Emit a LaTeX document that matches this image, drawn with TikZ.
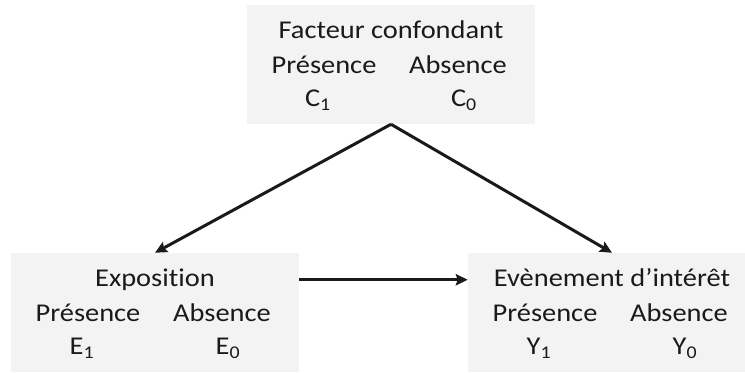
\documentclass[tikz,border=0pt]{standalone}
\usepackage{fontspec}
\setmainfont{Carlito}[FakeStretch=1.11,Ligatures=NoCommon]
\usepackage{tikz}
\usetikzlibrary{arrows.meta}
\definecolor{fond}{RGB}{242, 243, 242}
\definecolor{encre}{RGB}{26, 26, 26}
\tikzstyle{bloc}=[fill=fond,inner sep=0pt,minimum width=216pt,minimum height=89.25pt]
\tikzstyle{texte}=[inner sep=0pt,anchor=base,text=encre,font=\fontsize{19.2}{26}\selectfont]
\tikzstyle{fleche}=[encre,line width=2.25pt,-{Stealth[length=9pt,width=8.5pt,inset=1.5pt]}]
% nom, x, y, titre, lettre
\newcommand{\bloc}[5]{
  \node[bloc] (#1) at (#2, #3) {};
  \begin{scope}[shift={(#2, #3)}]
    \node[texte] (#1titre) at (0, -26) {#4};
    \node[texte] (#1pres) at (-67, 9) {Présence};
    \node[texte] (#1abs) at (67, 9) {Absence};
    \node[texte] (#1un) at (-73, 42) {#5\textsubscript{1}};
    \node[texte] (#1zero) at (73, 42) {#5\textsubscript{0}};
  \end{scope}
}

\begin{document}
\begin{tikzpicture}[x=0.75pt,y=-0.75pt]
\useasboundingbox (0,0) rectangle (745,372);

\bloc{conf}{391}{64.5}{Facteur confondant}{C};
\bloc{expo}{155}{312.5}{Exposition}{E};
\bloc{evt}{612}{312.5}{Evènement d’intérêt}{Y};

  \draw[fleche] (conf.south) -- (expo.north);
  \draw[fleche] (conf.south) -- (evt.north);
  \draw[fleche] (expo.east |- expotitre) -- (evt.west |- expotitre);

\end{tikzpicture}
\end{document}
